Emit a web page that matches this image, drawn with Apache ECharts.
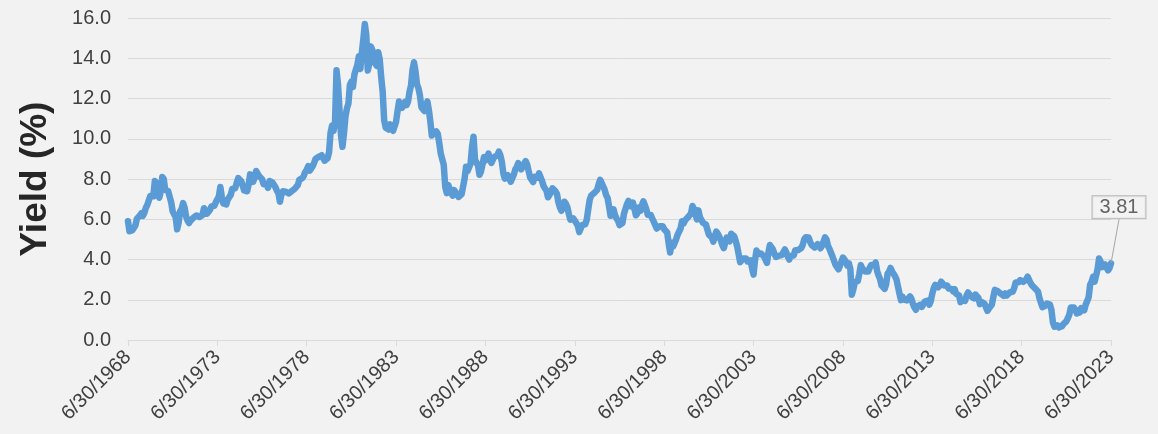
<!DOCTYPE html>
<html>
<head>
<meta charset="utf-8">
<title>10-Year Yield</title>
<script src="https://cdn.jsdelivr.net/npm/echarts@6/dist/echarts.min.js"></script>
<style>
  html, body { margin: 0; padding: 0; background: #f2f2f2; }
  #chart { width: 1158px; height: 434px; }
</style>
</head>
<body>
<div id="chart"></div>
<script>
// Month-end yields (%), June 1968 through June 2023, one row per year.
const yields1968to1979 = [
  5.90, 5.40, 5.42, 5.46, 5.58, 5.70, 6.03,
  6.04, 6.19, 6.30, 6.17, 6.32, 6.57, 6.72, 6.69, 7.16, 7.10, 7.14, 7.90,
  7.80, 7.24, 7.07, 7.39, 8.10, 8.00, 7.46, 7.53, 7.39, 7.33, 6.84, 6.39,
  6.24, 6.11, 5.50, 5.83, 6.39, 6.52, 6.80, 6.58, 6.14, 5.93, 5.81, 5.93,
  5.95, 6.08, 6.07, 6.19, 6.13, 6.11, 6.11, 6.21, 6.55, 6.48, 6.28, 6.36,
  6.46, 6.64, 6.71, 6.67, 6.85, 6.90, 7.13, 7.60, 7.09, 6.79, 6.73, 6.74,
  6.99, 6.96, 7.21, 7.51, 7.58, 7.54, 7.81, 8.04, 8.04, 7.90, 7.68, 7.43,
  7.50, 7.39, 7.73, 8.23, 8.06, 7.86, 8.06, 8.40, 8.43, 8.14, 8.05, 8.00,
  7.74, 7.79, 7.73, 7.56, 7.90, 7.86, 7.83, 7.77, 7.59, 7.41, 7.29, 6.87,
  7.21, 7.39, 7.46, 7.37, 7.46, 7.28, 7.33, 7.40, 7.34, 7.52, 7.58, 7.69,
  7.96, 8.03, 8.04, 8.15, 8.35, 8.46, 8.64, 8.41, 8.42, 8.64, 8.81, 9.01,
  9.10, 9.10, 9.12, 9.18, 9.25, 8.91, 8.95, 9.03, 9.33, 10.30, 10.65, 10.39
];
const yields1980s = [
  10.80, 13.40, 12.70, 11.47, 10.18, 9.60, 10.25, 11.10, 11.51, 11.75, 12.68, 12.84,
  12.57, 13.19, 13.12, 13.68, 14.10, 13.47, 14.28, 14.94, 15.70, 15.15, 13.39, 13.72,
  14.59, 14.43, 13.86, 13.87, 13.62, 14.30, 13.95, 13.06, 12.34, 10.91, 10.55, 10.54,
  10.46, 10.72, 10.51, 10.40, 10.38, 10.85, 11.38, 11.85, 11.65, 11.54, 11.69, 11.83,
  11.67, 11.84, 12.32, 12.63, 13.41, 13.80, 13.36, 12.72, 12.52, 12.16, 11.57, 11.50,
  11.38, 11.51, 11.86, 11.43, 10.85, 10.16, 10.31, 10.33, 10.37, 10.24, 9.78, 9.26,
  9.19, 8.70, 7.60, 7.30, 7.71, 7.80, 7.30, 7.17, 7.45, 7.43, 7.25, 7.11,
  7.08, 7.25, 7.25, 8.02, 8.61, 8.40, 8.45, 8.76, 9.60, 10.10, 8.95, 8.99,
  8.67, 8.21, 8.37, 8.72, 9.09, 8.92, 9.06, 9.26, 8.98, 8.80, 8.96, 9.11,
  9.09, 9.17, 9.36, 9.18, 8.86, 8.28, 8.02, 8.11, 8.19, 8.01, 7.87, 7.84
];
const yields1990s = [
  8.21, 8.47, 8.59, 8.79, 8.76, 8.48, 8.47, 8.75, 8.89, 8.72, 8.39, 8.08,
  8.09, 7.85, 8.11, 8.04, 8.07, 8.28, 8.27, 7.90, 7.65, 7.53, 7.42, 7.09,
  7.03, 7.34, 7.54, 7.48, 7.39, 7.26, 6.84, 6.59, 6.42, 6.59, 6.87, 6.77,
  6.60, 6.26, 5.98, 5.97, 6.04, 5.96, 5.81, 5.68, 5.36, 5.33, 5.72, 5.77,
  5.75, 5.97, 6.48, 6.97, 7.18, 7.10, 7.30, 7.24, 7.46, 7.74, 7.96, 7.81,
  7.78, 7.47, 7.20, 7.06, 6.63, 6.17, 6.28, 6.49, 6.20, 6.04, 5.93, 5.71,
  5.65, 5.81, 6.27, 6.51, 6.74, 6.91, 6.87, 6.64, 6.83, 6.53, 6.20, 6.30,
  6.58, 6.42, 6.69, 6.89, 6.71, 6.49, 6.22, 6.30, 6.21, 6.03, 5.88, 5.81,
  5.54, 5.57, 5.65, 5.64, 5.65, 5.50, 5.46, 5.34, 4.81, 4.35, 4.83, 4.65,
  4.72, 5.00, 5.23, 5.18, 5.54, 5.90, 5.79, 5.94, 5.92, 6.11, 6.03, 6.28
];
const yields2000s = [
  6.66, 6.52, 6.26, 5.99, 6.44, 6.10, 6.05, 5.83, 5.80, 5.74, 5.72, 5.24,
  5.16, 5.10, 4.89, 5.14, 5.39, 5.28, 5.24, 4.97, 4.73, 4.57, 4.65, 5.09,
  5.04, 4.91, 5.28, 5.21, 5.16, 4.93, 4.65, 4.26, 3.87, 3.94, 4.05, 4.03,
  4.05, 3.90, 3.81, 3.96, 3.57, 3.25, 3.98, 4.45, 4.27, 4.29, 4.30, 4.27,
  4.15, 4.08, 3.83, 4.35, 4.72, 4.73, 4.50, 4.28, 4.13, 4.10, 4.19, 4.23,
  4.22, 4.17, 4.50, 4.34, 4.14, 4.00, 4.18, 4.26, 4.20, 4.46, 4.54, 4.47,
  4.42, 4.57, 4.72, 4.99, 5.11, 5.11, 5.09, 4.88, 4.72, 4.73, 4.60, 4.56,
  4.76, 4.72, 4.56, 4.69, 4.75, 5.10, 5.00, 4.67, 4.52, 4.53, 4.15, 4.10,
  3.74, 3.74, 3.51, 3.68, 3.88, 4.10, 4.01, 3.89, 3.69, 3.81, 3.53, 2.25,
  2.52, 2.87, 2.82, 2.93, 3.29, 3.72, 3.56, 3.59, 3.40, 3.39, 3.40, 3.59
];
const yields2010s = [
  3.73, 3.69, 3.73, 3.85, 3.42, 3.20, 3.01, 2.70, 2.65, 2.54, 2.76, 3.29,
  3.39, 3.58, 3.41, 3.46, 3.17, 3.00, 3.00, 2.30, 1.98, 2.15, 2.01, 1.98,
  1.97, 1.97, 2.17, 2.05, 1.80, 1.62, 1.50, 1.68, 1.72, 1.75, 1.65, 1.72,
  1.91, 1.98, 1.96, 1.76, 1.93, 2.30, 2.58, 2.74, 2.81, 2.62, 2.72, 2.90,
  2.86, 2.71, 2.72, 2.71, 2.56, 2.60, 2.54, 2.42, 2.53, 2.30, 2.33, 2.21,
  1.88, 1.98, 2.04, 1.94, 2.20, 2.36, 2.32, 2.17, 2.17, 2.07, 2.26, 2.24,
  2.09, 1.78, 1.89, 1.81, 1.81, 1.64, 1.45, 1.56, 1.63, 1.76, 2.14, 2.49,
  2.43, 2.42, 2.48, 2.30, 2.30, 2.19, 2.32, 2.21, 2.20, 2.36, 2.35, 2.40,
  2.58, 2.86, 2.84, 2.87, 2.98, 2.91, 2.89, 2.89, 3.00, 3.15, 3.12, 2.83,
  2.71, 2.68, 2.57, 2.53, 2.40, 2.07, 2.06, 1.63, 1.70, 1.71, 1.81, 1.86
];
const yields2020s = [
  1.76, 1.50, 0.87, 0.66, 0.67, 0.73, 0.62, 0.60, 0.68, 0.79, 0.87, 0.93,
  1.08, 1.26, 1.61, 1.64, 1.62, 1.52, 1.32, 1.28, 1.37, 1.58, 1.56, 1.47,
  1.76, 1.93, 2.13, 2.75, 2.90, 3.14, 2.90, 2.90, 3.52, 4.05, 3.89, 3.62,
  3.53, 3.75, 3.66, 3.46, 3.57, 3.81
];

const yields = [].concat(yields1968to1979, yields1980s, yields1990s,
                         yields2000s, yields2010s, yields2020s);

// Month-end date labels starting at 6/30/1968
const startYear = 1968;
const startMonth = 5; // June (0-based)
const dates = yields.map((_, i) => {
  const m = startMonth + i;
  const y = startYear + Math.floor(m / 12);
  const mon = m % 12;
  const day = new Date(y, mon + 1, 0).getDate();
  return (mon + 1) + '/' + day + '/' + y;
});

// Y-axis ticks
const yTicks = [0, 2, 4, 6, 8, 10, 12, 14, 16];

const lastIndex = yields.length - 1;
const lastValue = yields[lastIndex];

const textColor = '#404040';
const fontFamily = '"Liberation Sans", Arial, sans-serif';

const chart = echarts.init(document.getElementById('chart'), null, { renderer: 'canvas' });
chart.setOption({
  backgroundColor: '#f2f2f2',
  animation: false,
  textStyle: { fontFamily: fontFamily },
  grid: { left: 128, right: 47, top: 18, bottom: 94, containLabel: false },
  xAxis: {
    type: 'category',
    data: dates,
    boundaryGap: false,
    axisLine: { show: true, lineStyle: { color: '#d9d9d9', width: 1 } },
    axisTick: { show: true, interval: 59, length: 6, lineStyle: { color: '#d9d9d9' } },
    axisLabel: {
      interval: 59,
      rotate: 45,
      margin: 14,
      color: textColor,
      fontSize: 20,
      fontFamily: fontFamily
    },
    splitLine: { show: false }
  },
  yAxis: {
    type: 'value',
    min: yTicks[0],
    max: yTicks[yTicks.length - 1],
    interval: yTicks[1] - yTicks[0],
    name: 'Yield (%)',
    nameLocation: 'middle',
    nameGap: 74,
    nameTextStyle: { fontSize: 37, fontWeight: 'bold', color: '#262626', fontFamily: fontFamily },
    axisLine: { show: false },
    axisTick: { show: false },
    axisLabel: {
      margin: 17,
      color: textColor,
      fontSize: 20,
      fontFamily: fontFamily,
      formatter: v => v.toFixed(1)
    },
    splitLine: { show: true, lineStyle: { color: '#d9d9d9', width: 1 } }
  },
  series: [
    {
      type: 'line',
      data: yields,
      showSymbol: false,
      smooth: false,
      lineStyle: { color: '#5b9bd5', width: 6.5, join: 'round', cap: 'round' },
      z: 2
    },
    {
      // callout for the latest value
      type: 'scatter',
      data: [[lastIndex, lastValue]],
      symbolSize: 2,
      itemStyle: { color: 'rgba(0,0,0,0)' },
      z: 3,
      label: {
        show: true,
        formatter: p => p.value[1].toFixed(2),
        color: textColor,
        fontSize: 20,
        lineHeight: 20,
        fontFamily: fontFamily,
        backgroundColor: '#f2f2f2',
        borderColor: '#a6a6a6',
        borderWidth: 1,
        padding: [1, 7, 1, 7]
      },
      labelLine: { show: true, lineStyle: { color: '#a6a6a6', width: 1 } },
      labelLayout: p => ({
        x: p.rect.x + p.rect.width / 2 + 8,
        y: p.rect.y + p.rect.height / 2 - 56,
        align: 'center',
        verticalAlign: 'middle'
      })
    }
  ]
});
</script>
</body>
</html>
